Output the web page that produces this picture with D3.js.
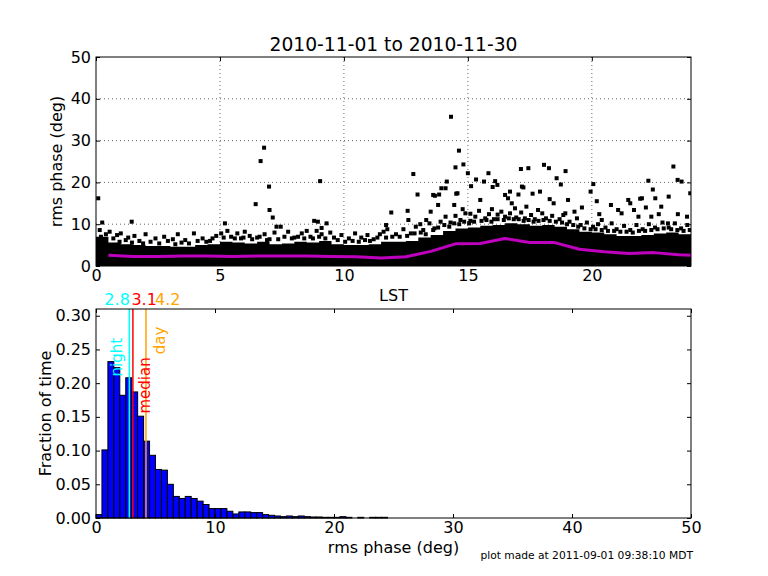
<!DOCTYPE html>
<html>
<head>
<meta charset="utf-8">
<script src="https://cdn.jsdelivr.net/npm/d3@7"></script>
<style>
  body { margin: 0; background: #fff; }
  text { font-family: "DejaVu Sans", sans-serif; }
</style>
</head>
<body>
<div id="root"></div>
<script>
const width = 768;
const height = 576;

// top panel: rms phase vs LST
// dense core of the scatter, top edge every half hour (deg)
const coreLst = [0,0.5,1,1.5,2,2.5,3,3.5,4,4.5,5,5.5,6,6.5,7,7.5,8,8.5,9,9.5,10,10.5,11,11.5,
                 12,12.5,13,13.5,14,14.5,15,15.5,16,16.5,17,17.5,18,18.5,19,19.5,20,20.5,21,21.5,22,22.5,23,23.5];
const coreTop = [7.0,5.6,5.2,5.0,4.8,4.8,4.6,4.6,5.0,5.2,5.8,5.6,5.4,5.8,5.2,5.4,5.8,5.6,6.0,5.2,5.0,5.0,5.2,5.8,
                 5.8,6.0,6.8,7.4,8.4,9.0,9.2,9.6,9.8,10.2,10.0,9.6,9.8,9.4,8.8,8.2,8.0,7.6,7.2,7.2,7.4,7.8,8.0,7.6];

// points along the ragged edge of the core [LST, rms]
const edgePts = [
  [0.2,7.0],[0.35,6.2],[0.7,6.6],[0.95,5.8],[1.2,6.2],[1.45,5.6],[1.75,6.0],[1.9,5.4],[2.2,5.8],[2.55,5.4],
  [2.9,6.0],[3.2,5.2],[3.45,5.6],[3.75,5.4],[4.1,6.0],[4.45,5.8],[4.7,6.6],[5.15,6.8],[5.6,6.6],[5.95,6.8],
  [6.3,6.4],[6.6,7.0],[6.9,6.2],[7.35,6.4],[7.9,6.6],[8.15,7.0],[8.4,6.6],[8.75,6.6],[9.0,7.0],[9.25,6.6],
  [9.75,6.2],[10.05,5.8],[10.35,6.0],[10.6,5.8],[10.85,6.2],[11.05,6.0],[11.35,6.8],[11.7,6.8],[11.95,7.0],
  [12.25,7.0],[12.55,7.2],[12.85,7.8],[13.1,8.0],[13.3,7.6],[13.6,8.6],[13.8,9.2],[14.05,9.8],[14.25,9.4],[14.45,10.2],
  [14.65,10.0],[14.85,10.6],[15.05,10.2],[15.25,10.6],[15.55,10.8],[15.75,11.0],[15.95,10.6],[16.2,11.2],[16.45,11.0],[16.65,11.4],
  [16.85,11.2],[17.05,11.2],[17.25,10.8],[17.45,11.0],[17.65,10.6],[17.85,10.8],[18.05,11.0],[18.3,10.8],[18.55,10.6],[18.8,10.4],
  [19.0,10.0],[19.25,9.8],[19.45,9.4],[19.7,9.0],[19.95,8.8],[20.15,8.8],[20.4,8.6],[20.65,8.4],[20.9,8.4],[21.15,8.2],
  [21.4,8.2],[21.65,8.0],[21.9,8.4],[22.15,8.4],[22.4,8.6],[22.65,8.8],[22.9,9.0],[23.2,8.8],[23.45,8.6],[23.7,8.4],[23.95,8.6]
];

// scattered points just above the core [LST, rms]
const haloPts = [
  [0.15,8.6],[0.4,7.6],[0.55,8.2],[0.85,7.4],[1.0,7.8],[1.3,6.8],[1.55,7.2],[2.0,7.6],[2.4,6.6],[2.75,7.0],
  [3.1,6.4],[3.3,7.6],[3.6,6.2],[3.95,7.8],[4.3,6.6],[4.6,6.0],[4.85,7.2],[5.05,7.8],[5.3,8.4],[5.45,7.0],
  [5.7,7.8],[5.85,6.6],[6.0,8.2],[6.2,7.2],[6.5,6.8],[6.8,7.6],[7.0,6.4],[7.2,8.0],[7.6,7.0],[7.75,8.2],
  [8.0,6.8],[8.3,7.8],[8.5,8.4],[8.65,7.0],[8.9,8.4],[9.1,7.6],[9.45,8.0],[9.6,6.8],[9.9,7.4],[10.2,6.6],
  [10.45,7.8],[10.7,6.8],[10.95,7.4],[11.2,6.4],[11.45,7.6],[11.6,8.2],
  [12.1,7.6],[12.4,8.8],[12.7,7.8],[12.9,9.4],[13.2,8.6],[13.45,10.2],[13.65,9.0],[13.9,10.6],[14.1,11.8],[14.3,10.4],
  [14.5,12.0],[14.7,11.0],[14.9,12.6],[15.1,10.8],[15.3,11.8],[15.45,13.2],[15.7,11.4],[15.85,12.4],[16.05,11.2],[16.35,13.0],
  [16.5,11.8],[16.7,12.6],[16.95,11.6],[17.15,12.8],[17.3,11.4],[17.55,12.2],[17.7,11.2],[18.0,12.6],[18.15,11.4],[18.4,12.0],
  [18.7,11.2],[18.85,12.2],[19.1,10.6],[19.4,11.4],[19.55,9.8],[19.8,10.4],[20.05,9.4],[20.25,10.0],[20.55,9.2],[20.8,10.2],
  [21.0,8.8],[21.3,9.6],[21.55,8.6],[21.8,9.8],[22.05,8.8],[22.3,10.0],[22.55,9.2],[22.85,10.4],[23.1,9.2],[23.35,10.2],
  [23.6,9.0],[23.85,9.8]
];

// sparse high points [LST, rms]
const outlierPts = [
  [0.09,16.2],[0.25,10.4],[1.44,10.6],[5.2,10.2],[6.44,14.8],[6.64,25.1],[6.78,28.3],[6.98,19.0],[7.0,13.4],[7.13,11.6],
  [7.28,9.4],[7.45,9.4],[8.8,10.8],[8.95,10.6],[9.04,20.3],[9.1,9.1],[9.3,10.2],[11.7,9.8],[11.75,8.8],[11.91,12.8],
  [12.57,13.2],[12.6,11.0],[12.8,22.0],[12.97,17.1],[13.08,10.0],[13.32,11.0],[13.5,13.0],[13.6,17.0],[13.67,16.8],[13.84,17.1],
  [13.8,14.6],[13.93,18.6],[14.1,18.6],[14.15,20.2],[14.32,35.7],[14.45,14.6],[14.5,23.6],[14.53,17.3],[14.58,17.4],[14.64,27.6],
  [14.79,13.6],[14.82,24.3],[15.0,22.2],[15.1,12.5],[15.13,19.1],[15.33,20.7],[15.5,15.8],[15.65,20.2],[15.83,22.2],[15.97,13.6],
  [16.0,18.9],[16.1,20.3],[16.19,19.4],[16.2,12.3],[16.5,17.0],[16.62,16.2],[16.7,17.8],[16.77,15.0],[16.9,13.8],[17.04,17.1],
  [17.14,23.2],[17.18,19.0],[17.24,18.8],[17.36,14.2],[17.44,23.4],[17.61,17.3],[17.83,13.4],[17.91,17.8],[18.07,24.2],[18.27,23.4],
  [18.3,16.0],[18.46,15.0],[18.58,21.0],[18.75,19.5],[18.93,12.6],[18.94,22.7],[19.04,15.8],[19.3,13.0],[19.6,14.0],[19.95,17.8],
  [20.06,19.6],[20.2,15.5],[20.3,12.4],[20.4,11.0],[20.77,14.6],[21.06,13.4],[21.2,12.6],[21.47,15.8],[21.55,15.0],[21.7,13.4],
  [21.88,11.8],[21.95,16.1],[22.02,16.2],[22.18,14.0],[22.28,20.4],[22.4,11.8],[22.46,18.3],[22.56,16.2],[22.7,12.4],[22.8,14.2],
  [23.07,10.2],[23.1,16.6],[23.29,23.8],[23.46,20.6],[23.47,12.4],[23.62,20.2],[23.84,11.8],[23.97,17.4]
];

// hourly median (magenta line)
const medLst = [0.5,1.5,2.5,3.5,4.5,5.5,6.5,7.5,8.5,9.5,10.5,11.5,12.5,13.5,14.5,15.5,16.5,17.5,18.5,19.5,20.5,21.5,22.5,23.5,24];
const medRms = [2.6,2.3,2.3,2.4,2.4,2.3,2.4,2.4,2.4,2.3,2.2,1.9,2.2,3.5,5.3,5.4,6.6,5.6,5.6,4.0,3.4,3.0,3.2,2.7,2.6];

const topXTicks = [0,5,10,15,20];
const topYTicks = [0,10,20,30,40,50];

// bottom panel: histogram, bins of 0.5 deg from 0
const binWidth = 0.5;
const histValues = [0.005,0.101,0.232,0.223,0.182,0.208,0.187,0.151,0.114,0.093,
                    0.072,0.071,0.050,0.032,0.029,0.032,0.029,0.025,0.020,0.014,
                    0.014,0.014,0.010,0.006,0.009,0.009,0.008,0.008,0.005,0.004,
                    0.003,0.002,0.003,0.002,0.003,0.002,0.0015,0.0015,0.001,0.001,
                    0.001,0.002,0.001,0,0.001,0,0.001,0.001,0.001,0];
const histXTicks = [0,10,20,30,40,50];
const histYTicks = [0,0.05,0.10,0.15,0.20,0.25,0.30];

// marker lines
const markNames = ["night","median","day"];
const markValues = [2.8,3.1,4.2];
const markColors = ["#00ffff","#ff0000","#ffa500"];
const markLabelY = [0.21,0.155,0.243];

const svg = d3.select("#root").append("svg")
  .attr("width", width).attr("height", height);

const xTop = d3.scaleLinear().domain([0,24]).range([96,691]);
const yTop = d3.scaleLinear().domain([0,50]).range([266,57]);
const xHist = d3.scaleLinear().domain([0,50]).range([96,691]);
const yHist = d3.scaleLinear().domain([0,0.31]).range([518,309]);

function drawFrame(g, x, y, xTicks, yTicks, yFmt) {
  const [x0, x1] = x.range();
  const [y0, y1] = y.range();
  g.append("g").attr("transform", `translate(0,${y0})`)
    .call(d3.axisBottom(x).tickValues(xTicks).tickSize(-4).tickPadding(4).tickFormat(d3.format("d")));
  g.append("g").attr("transform", `translate(0,${y1})`)
    .call(d3.axisTop(x).tickValues(xTicks).tickSize(-4).tickFormat(""));
  g.append("g").attr("transform", `translate(${x0},0)`)
    .call(d3.axisLeft(y).tickValues(yTicks).tickSize(-4).tickPadding(5).tickFormat(yFmt));
  g.append("g").attr("transform", `translate(${x1},0)`)
    .call(d3.axisRight(y).tickValues(yTicks).tickSize(-4).tickFormat(""));
  g.selectAll(".domain").remove();
  g.selectAll(".tick line").attr("stroke", "#000");
  g.selectAll(".tick text").attr("fill", "#000")
    .attr("font-size", 16).attr("font-family", "DejaVu Sans, sans-serif");
  g.append("rect")
    .attr("x", x0).attr("y", y1).attr("width", x1 - x0).attr("height", y0 - y1)
    .attr("fill", "none").attr("stroke", "#000").attr("stroke-width", 1);
}

// ---- top panel
const topPanel = svg.append("g");
svg.append("defs").append("clipPath").attr("id", "clipTop")
  .append("rect").attr("x", 96).attr("y", 57).attr("width", 595).attr("height", 209);

const grid = topPanel.append("g").attr("stroke", "#666").attr("stroke-width", 1).attr("stroke-dasharray", "1,3");
grid.selectAll(".gx").data(topXTicks.slice(1)).enter().append("line")
  .attr("x1", d => xTop(d)).attr("x2", d => xTop(d)).attr("y1", 57).attr("y2", 266);
grid.selectAll(".gy").data(topYTicks.slice(1, -1)).enter().append("line")
  .attr("y1", d => yTop(d)).attr("y2", d => yTop(d)).attr("x1", 96).attr("x2", 691);

const plot = topPanel.append("g").attr("clip-path", "url(#clipTop)");

const coreData = coreLst.map((l, i) => [l, coreTop[i]]).concat([[24, coreTop[coreTop.length - 1]]]);
plot.append("path")
  .datum(coreData)
  .attr("d", d3.area().curve(d3.curveStepAfter)
    .x(d => xTop(d[0])).y0(yTop(0)).y1(d => yTop(d[1])))
  .attr("fill", "#000");

plot.selectAll(".pt")
  .data(edgePts.concat(haloPts, outlierPts)).enter()
  .append("rect")
    .attr("x", d => xTop(d[0]) - 2)
    .attr("y", d => yTop(d[1]) - 2)
    .attr("width", 4).attr("height", 4)
    .attr("fill", "#000");

plot.append("path")
  .datum(medLst.map((l, i) => [l, medRms[i]]))
  .attr("d", d3.line().x(d => xTop(d[0])).y(d => yTop(d[1])))
  .attr("fill", "none")
  .attr("stroke", "#bf00bf")
  .attr("stroke-width", 3)
  .attr("stroke-linejoin", "round");

drawFrame(topPanel, xTop, yTop, topXTicks, topYTicks, d3.format("d"));

svg.append("text")
  .attr("x", 393.5).attr("y", 51)
  .attr("text-anchor", "middle").attr("font-size", 18.7)
  .text("2010-11-01 to 2010-11-30");

svg.append("text")
  .attr("x", 393.5).attr("y", 301)
  .attr("text-anchor", "middle").attr("font-size", 16)
  .text("LST");

svg.append("text")
  .attr("transform", "translate(62,161.5) rotate(-90)")
  .attr("text-anchor", "middle").attr("font-size", 16)
  .text("rms phase (deg)");

// ---- bottom panel
const botPanel = svg.append("g");

botPanel.selectAll(".bar")
  .data(histValues).enter()
  .append("rect")
    .attr("x", (d, i) => xHist(i * binWidth))
    .attr("y", d => yHist(d))
    .attr("width", (d, i) => xHist((i + 1) * binWidth) - xHist(i * binWidth))
    .attr("height", d => yHist(0) - yHist(d))
    .attr("fill", "#0000ff")
    .attr("stroke", "#000")
    .attr("stroke-width", 1);

botPanel.selectAll(".mark")
  .data(markValues).enter()
  .append("line")
    .attr("x1", d => xHist(d)).attr("x2", d => xHist(d))
    .attr("y1", 309).attr("y2", 518)
    .attr("stroke", (d, i) => markColors[i])
    .attr("stroke-width", 1.5);

drawFrame(botPanel, xHist, yHist, histXTicks, histYTicks, d3.format(".2f"));

// numbers above the axes
const numPos = [{ x: xHist(markValues[0]) + 0.5, anchor: "end" },
                { x: xHist(markValues[1]) - 1.5, anchor: "start" },
                { x: xHist(markValues[2]) + 9, anchor: "start" }];
svg.selectAll(".num")
  .data(markValues).enter()
  .append("text")
    .attr("x", (d, i) => numPos[i].x)
    .attr("y", 305)
    .attr("text-anchor", (d, i) => numPos[i].anchor)
    .attr("font-size", 16)
    .attr("fill", (d, i) => markColors[i])
    .text(d => d.toFixed(1));

// rotated names next to lines
const nameX = [xHist(markValues[0]) - 7, xHist(markValues[1]) + 17, xHist(markValues[2]) + 19];
svg.selectAll(".name")
  .data(markNames).enter()
  .append("text")
    .attr("transform", (d, i) => `translate(${nameX[i]},${yHist(markLabelY[i])}) rotate(-90)`)
    .attr("font-size", 15)
    .attr("fill", (d, i) => markColors[i])
    .text(d => d);

svg.append("text")
  .attr("x", 393.5).attr("y", 553)
  .attr("text-anchor", "middle").attr("font-size", 16)
  .text("rms phase (deg)");

svg.append("text")
  .attr("transform", "translate(51,413.5) rotate(-90)")
  .attr("text-anchor", "middle").attr("font-size", 16)
  .text("Fraction of time");

svg.append("text")
  .attr("x", 693).attr("y", 559)
  .attr("text-anchor", "end").attr("font-size", 10.7)
  .text("plot made at 2011-09-01 09:38:10 MDT");
</script>
</body>
</html>
